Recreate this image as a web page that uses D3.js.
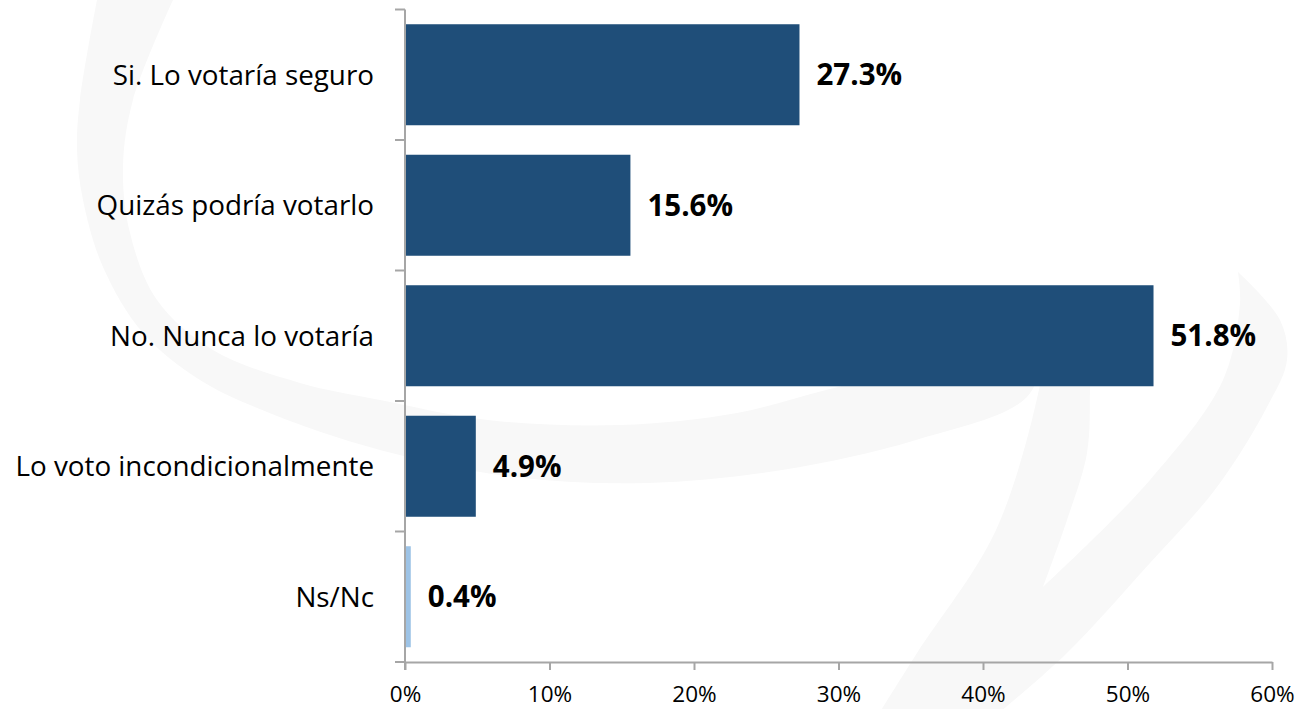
<!DOCTYPE html>
<html>
<head>
<meta charset="utf-8">
<script src="https://cdn.jsdelivr.net/npm/d3@7"></script>
<style>
  body { margin: 0; background: #fff; }
  svg { display: block; font-family: "Open Sans", "Noto Sans", sans-serif; }
</style>
</head>
<body>
<div id="chart"></div>
<script>
// Chart size.
var chartWidth = 1299;
var chartHeight = 709;

// Data.
var categories = ["Si. Lo votaría seguro", "Quizás podría votarlo", "No. Nunca lo votaría",
                  "Lo voto incondicionalmente", "Ns/Nc"];
var values = [0.273, 0.156, 0.518, 0.049, 0.004];
var barColors = ["#1f4e79", "#1f4e79", "#1f4e79", "#1f4e79", "#9dc3e6"];
var tickValues = [0, 0.1, 0.2, 0.3, 0.4, 0.5, 0.6];

var plot = { left: 405, right: 1272, top: 9.5, bottom: 662 };

var svg = d3.select("#chart").append("svg")
    .attr("width", chartWidth)
    .attr("height", chartHeight);

// Faint watermark swooshes behind the chart.
var wm = svg.append("g").attr("fill", "#f8f8f8");
var smooth = d3.line().curve(d3.curveCatmullRom.alpha(0.5));
var outerEdge = [[97,0],[80,100],[77,150],[83,200],[103,267],[143,333],[200,380],[267,412],
                 [380,450],[514,477],[648,483],[782,470],[916,440],[1027,397],[1046,345]];
var innerEdge = [[1050,335],[916,368],[826,390],[737,413],[620,425],[488,420],[380,400],
                 [300,383],[213,350],[157,300],[130,233],[123,167],[133,100],[173,0]];
wm.append("path").attr("d", smooth(outerEdge) + "L" + smooth(innerEdge).slice(1) + "Z");

var hookLeft = [[880,712],[917,653],[996,530],[1041,380],[1046,335]];
var hookNotch = [[1090,335],[1090,387],[1087,453],[1067,520],[1043,587]];
var hookInner = [[1043,587],[1150,480],[1223,380],[1240,303],[1238,272]];
var hookOuter = [[1238,272],[1280,320],[1287,360],[1267,407],[1217,487],[1150,563],[1067,653],[1000,712]];
wm.append("path").attr("d",
    smooth(hookLeft) + "L" + smooth(hookNotch).slice(1) +
    "L" + smooth(hookInner).slice(1) + "L" + smooth(hookOuter).slice(1) + "Z");

var x = d3.scaleLinear().domain([0, 0.6]).range([plot.left, plot.right]);
var y = d3.scaleBand().domain(categories)
    .range([plot.top, plot.bottom])
    .paddingInner(0.226)
    .paddingOuter(0.113);

var fmt = d3.format(".1%");

// Bars.
svg.append("g").selectAll("rect")
    .data(values)
    .enter().append("rect")
    .attr("x", x(0))
    .attr("y", function(d, i) { return y(categories[i]); })
    .attr("width", function(d) { return x(d) - x(0); })
    .attr("height", y.bandwidth())
    .attr("fill", function(d, i) { return barColors[i]; });

// Value labels.
svg.append("g").selectAll("text")
    .data(values)
    .enter().append("text")
    .attr("x", function(d) { return x(d) + 17; })
    .attr("y", function(d, i) { return y(categories[i]) + y.bandwidth() / 2; })
    .attr("dy", "0.36em")
    .style("font-size", "29.5px")
    .style("font-weight", "bold")
    .style("fill", "#000")
    .text(function(d) { return fmt(d); });

// Category labels.
svg.append("g").selectAll("text")
    .data(categories)
    .enter().append("text")
    .attr("x", 374)
    .attr("y", function(d) { return y(d) + y.bandwidth() / 2; })
    .attr("dy", "0.36em")
    .attr("text-anchor", "end")
    .style("font-size", "27.8px")
    .style("fill", "#000")
    .text(function(d) { return d; });

var axisColor = "#a6a6a6";

// Left axis: line plus ticks at band boundaries.
var step = y.step();
var boundaries = d3.range(categories.length + 1).map(function(i) {
  return plot.top + i * step;
});
svg.append("line")
    .attr("x1", plot.left).attr("x2", plot.left)
    .attr("y1", plot.top).attr("y2", plot.bottom + 8)
    .attr("stroke", axisColor).attr("stroke-width", 2);
svg.append("g").selectAll("line")
    .data(boundaries)
    .enter().append("line")
    .attr("x1", plot.left - 10).attr("x2", plot.left)
    .attr("y1", function(d) { return d; })
    .attr("y2", function(d) { return d; })
    .attr("stroke", axisColor).attr("stroke-width", 2);

// Bottom axis.
var xAxis = svg.append("g")
    .attr("transform", "translate(0," + plot.bottom + ")")
    .call(d3.axisBottom(x)
      .tickValues(tickValues)
      .tickFormat(d3.format(".0%"))
      .tickSize(8)
      .tickPadding(16)
      .tickSizeOuter(0));
xAxis.select(".domain").attr("stroke", axisColor).attr("stroke-width", 2);
xAxis.selectAll(".tick line").attr("stroke", axisColor).attr("stroke-width", 2);
xAxis.selectAll(".tick text")
    .style("font-family", "'Open Sans', 'Noto Sans', sans-serif")
    .style("font-size", "22.5px")
    .style("fill", "#000");
</script>
</body>
</html>
